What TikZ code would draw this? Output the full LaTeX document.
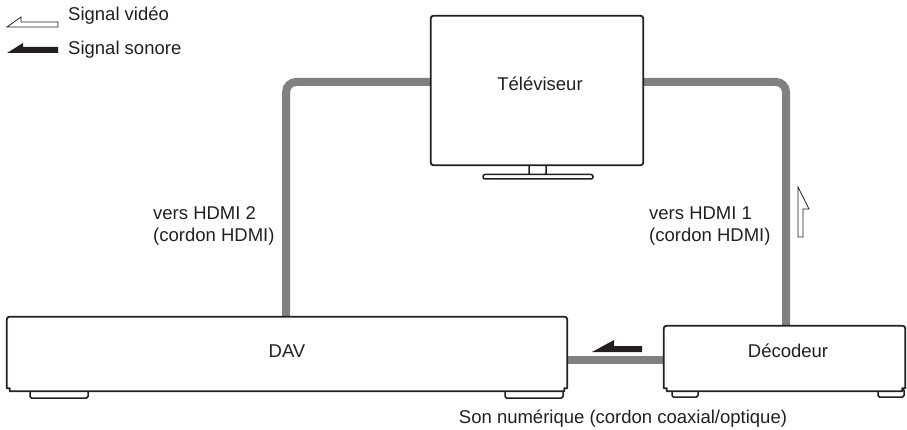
\documentclass[tikz,border=0pt]{standalone}
\usepackage{fontspec}
\setmainfont{Liberation Sans}
\definecolor{boxc}{HTML}{231F20}
\definecolor{cablec}{HTML}{808080}
\begin{document}
\begin{tikzpicture}[x=1pt,y=-1pt,
  box/.style={draw=boxc, line width=1.8pt, rounded corners=2.5pt, fill=white, inner sep=0},
  hidden/.style={draw=none, fill=white, inner sep=0},
  outline/.style={draw=boxc, line width=1.8pt, fill=white, line join=round},
  cable/.style={draw=cablec, line width=8pt},
  lbl/.style={font=\fontsize{18.5}{22}\selectfont, inner sep=0, text=boxc},
  foot/.style={draw=boxc, line width=1.5pt, rounded corners=1.5pt, fill=white},
  whitearrow/.style={draw=boxc, line width=0.8pt, fill=white, line join=miter},
  blackarrow/.style={fill=boxc}]
\useasboundingbox (0,0) rectangle (907,430);

% nodes (boxes)
\node[hidden, minimum width=212pt, minimum height=149pt] (tv) at (537,90.5) {};
\node[hidden, minimum width=560pt, minimum height=74pt] (dav) at (287,354) {};
\node[hidden, minimum width=241pt, minimum height=65pt] (dec) at (784.5,358.5) {};

% cables
\draw[cable, rounded corners=10pt] ([xshift=-0.9pt]dav.north) |- ([yshift=8.5pt]tv.west);
\draw[cable, rounded corners=10pt] ([yshift=8.5pt]tv.east) -| ([xshift=1.5pt]dec.north);
\draw[cable] ([yshift=-1.5pt]dec.west) -- ([yshift=-1.5pt]dec.west -| dav.east);

% TV stand
\draw[foot] (529,163) rectangle (546,175);
\draw[foot, rounded corners=2pt] (483,174.5) rectangle (593,179);

% feet
\draw[foot] (30,389) rectangle (88,398);
\draw[foot] (505,389) rectangle (563,398);
\draw[foot] (672,389) rectangle (698,397);
\draw[foot] (878,389) rectangle (904,397);

% box outlines
\draw[box] (tv.south west) rectangle (tv.north east);
\foreach \b in {dav,dec} {
  \draw[outline] ([xshift=3pt]\b.south west) -- ([xshift=3pt,yshift=3pt]\b.south west)
    -- ([yshift=3pt]\b.south west) [rounded corners=2.5pt] -- (\b.north west) -- (\b.north east)
    [sharp corners] -- ([yshift=3pt]\b.south east) -- ([xshift=-3pt,yshift=3pt]\b.south east)
    -- ([xshift=-3pt]\b.south east) -- cycle;
}

% labels in boxes
\node[lbl, anchor=base] (tvl) at (540,91) {Téléviseur};
\node[lbl, anchor=base] (davl) at (287,357) {DAV};
\node[lbl, anchor=base] (decl) at (788,357) {Décodeur};

% signal arrows
\fill[blackarrow] (592,352) -- (614,340) -- (614,346) -- (642,346) -- (642,352) -- cycle;
\draw[whitearrow] (798,187) -- (809,209) -- (803,209) -- (803,237) -- (798,237) -- cycle;

% legend
\draw[whitearrow] (7,27) -- (21,17) -- (21,22) -- (58,22) -- (58,27) -- cycle;
\fill[blackarrow] (7,53) -- (23,43) -- (23,47) -- (58,47) -- (58,53) -- cycle;
\node[lbl, anchor=base west] (lv) at (68,21) {Signal vidéo};
\node[lbl, anchor=base west] (ls) at (68,55) {Signal sonore};

% cable labels
\node[lbl, anchor=base west] (h2a) at (153,220) {vers HDMI 2};
\node[lbl, anchor=base west] (h2b) at (153,242) {(cordon HDMI)};
\node[lbl, anchor=base west] (h1a) at (649,220) {vers HDMI 1};
\node[lbl, anchor=base west] (h1b) at (649,242) {(cordon HDMI)};
\node[lbl, anchor=base] (son) at (623,423) {Son numérique (cordon coaxial/optique)};
\end{tikzpicture}
\end{document}
